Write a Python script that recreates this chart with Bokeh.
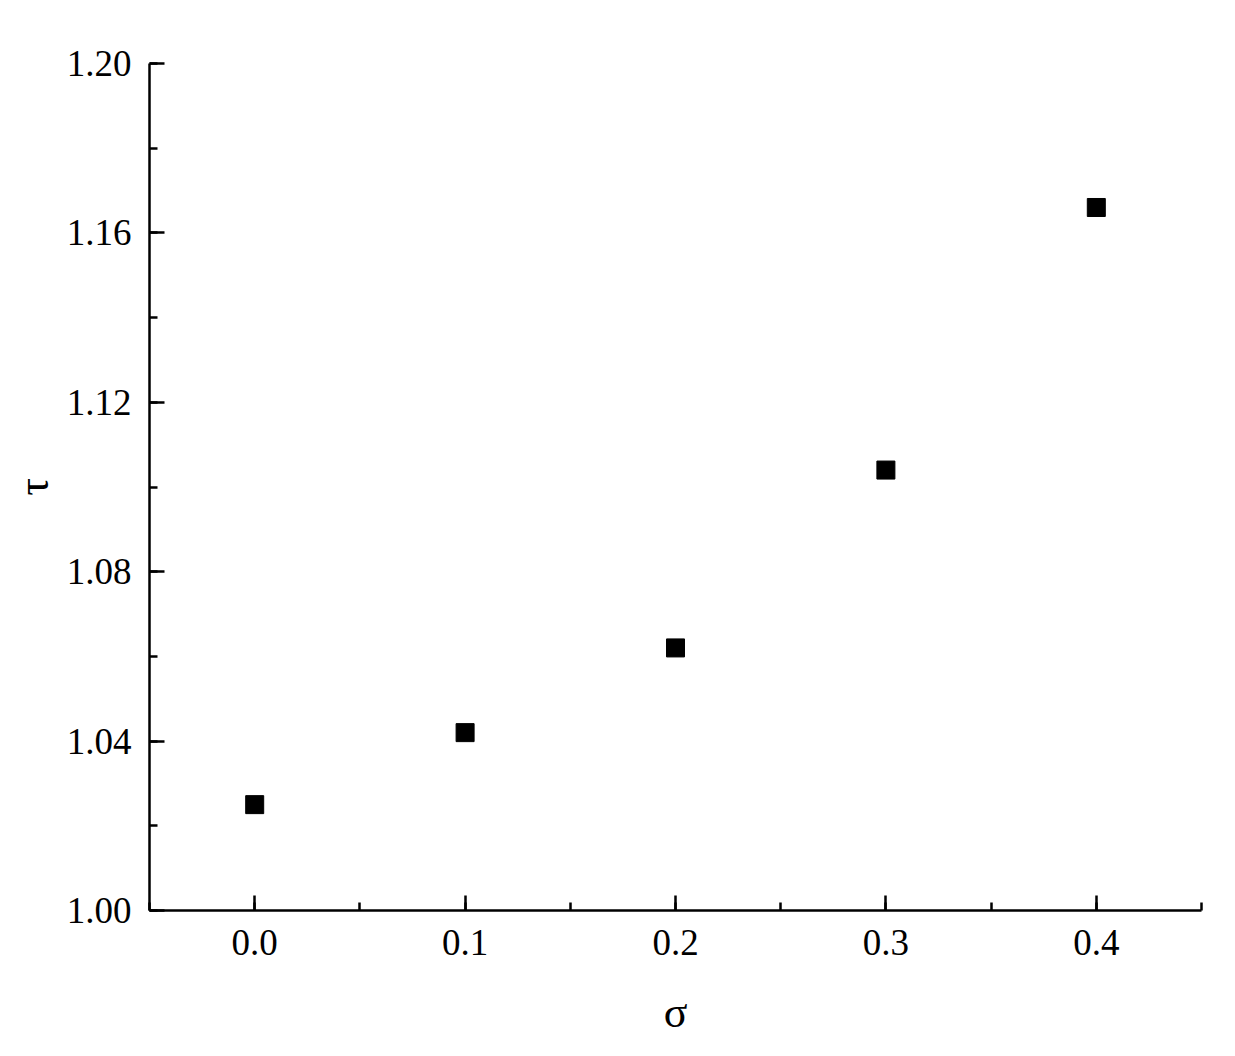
from bokeh.plotting import figure
from bokeh.models import Range1d, SingleIntervalTicker, NumeralTickFormatter
from bokeh.embed import file_html
from bokeh.resources import INLINE

sigma = [0.0, 0.1, 0.2, 0.3, 0.4]
tau = [1.025, 1.042, 1.062, 1.104, 1.166]

p = figure(width=1219, height=1040, output_backend="svg", toolbar_location=None,
           x_range=Range1d(-0.05, 0.45), y_range=Range1d(1.00, 1.20),
           min_border_left=149, min_border_right=18, min_border_top=63, min_border_bottom=130)
p.outline_line_color = None
p.xgrid.grid_line_color = None
p.ygrid.grid_line_color = None
p.background_fill_color = "white"
p.border_fill_color = "white"

p.scatter(sigma, tau, marker="square", size=18, fill_color="black", line_color="black")

font = "Liberation Serif"
for ax in (p.xaxis[0], p.yaxis[0]):
    ax.axis_line_width = 2.5
    ax.axis_line_color = "black"
    ax.major_tick_in = 15
    ax.major_tick_out = 0
    ax.minor_tick_in = 8
    ax.minor_tick_out = 0
    ax.major_tick_line_width = 2.5
    ax.minor_tick_line_width = 2.5
    ax.major_label_text_font = font
    ax.major_label_text_font_size = "37px"
    ax.major_label_text_color = "black"
    ax.axis_label_text_font = font
    ax.axis_label_text_font_size = "44px"
    ax.axis_label_text_font_style = "normal"
    ax.axis_label_text_color = "black"

p.xaxis[0].ticker = SingleIntervalTicker(interval=0.1, num_minor_ticks=2)
p.yaxis[0].ticker = SingleIntervalTicker(interval=0.04, num_minor_ticks=2)
p.xaxis[0].formatter = NumeralTickFormatter(format="0.0")
p.yaxis[0].formatter = NumeralTickFormatter(format="0.00")
p.xaxis[0].axis_label = "σ"
p.yaxis[0].axis_label = "τ"
p.xaxis[0].major_label_standoff = 19
p.yaxis[0].major_label_standoff = 18
p.xaxis[0].axis_label_standoff = 30
p.yaxis[0].axis_label_standoff = 6

open("out.html", "w").write(file_html(p, INLINE))
